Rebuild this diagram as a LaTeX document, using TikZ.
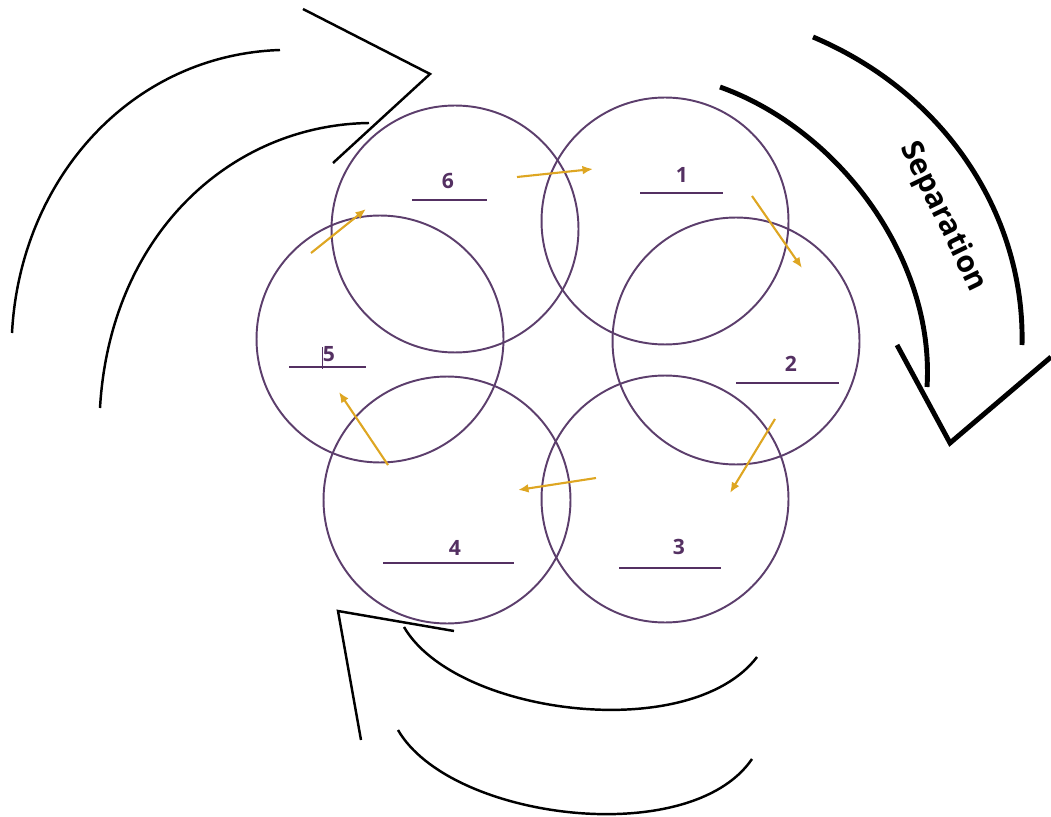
\documentclass[tikz,border=0pt]{standalone}
\usepackage{fontspec}
\setmainfont{Open Sans}
\usetikzlibrary{arrows.meta}

\definecolor{ringpurple}{RGB}{92,62,108}
\definecolor{numpurple}{RGB}{84,48,98}
\definecolor{flowgold}{RGB}{222,166,34}

\begin{document}
\begin{tikzpicture}
[
	x=0.02cm, y=-0.02cm,
	ring/.style={circle,draw=ringpurple,line width=1.1pt,minimum size=4.94cm,inner sep=0pt},
	num/.style={text=numpurple,font=\bfseries\fontsize{12}{14}\selectfont},
	uline/.style={draw=numpurple,line width=0.9pt},
	flow/.style={draw=flowgold,line width=1.2pt,-{Latex[length=6pt,width=5pt]}},
	sweep/.style={draw=black,line width=1.4pt},
	bigsweep/.style={draw=black,line width=2.8pt,line join=miter}
]
	\useasboundingbox (0,0) rectangle (1051,817);

	% circles
	\node[ring] (c6) at (455,229) {};
	\node[ring] (c1) at (665,221) {};
	\node[ring] (c2) at (736,341) {};
	\node[ring] (c3) at (665,499) {};
	\node[ring] (c4) at (447,500) {};
	\node[ring] (c5) at (380,339) {};

	% numbers and blank lines
	\foreach \n/\x/\y/\a/\b/\u in {6/448/181/412/487/200, 1/682/175/640/723/193,
		2/791/364/736/839/383, 3/679/547/619/721/568,
		4/455/548/383/514/563, 5/329/354/289/366/367} {
		\node[num] (n\n) at (\x,\y) {\n};
		\coordinate (l\n a) at (\a,\u);
		\coordinate (l\n b) at (\b,\u);
		\draw[uline] (l\n a) -- (l\n b);
	}
	\coordinate (cura) at (322,347);
	\coordinate (curb) at (322,369);
	\draw[numpurple,line width=0.5pt] (cura) -- (curb);

	% flow between circles
	\coordinate (f61a) at (517,177); \coordinate (f61b) at (593,169);
	\coordinate (f12a) at (752,196); \coordinate (f12b) at (802,268);
	\coordinate (f23a) at (775,419); \coordinate (f23b) at (730,493);
	\coordinate (f34a) at (596,478); \coordinate (f34b) at (518,490);
	\coordinate (f45a) at (388,465); \coordinate (f45b) at (339,392);
	\coordinate (f56a) at (311,253); \coordinate (f56b) at (366,209);
	\foreach \p in {61,12,23,34,45,56} {
		\draw[flow] (f\p a) -- (f\p b);
	}

	% top left sweep
	\coordinate (tlo1) at (12,333);   \coordinate (tlo2) at (280,50);
	\coordinate (tli1) at (100,408);  \coordinate (tli2) at (369,123);
	\coordinate (tlh1) at (303,9);    \coordinate (tlh2) at (430,74);
	\coordinate (tlh3) at (333,163);
	\draw[sweep] (tlo1) .. controls (20,180) and (130,55) .. (tlo2);
	\draw[sweep] (tli1) .. controls (110,235) and (230,125) .. (tli2);
	\draw[sweep] (tlh1) -- (tlh2) -- (tlh3);

	% separation sweep
	\coordinate (spo1) at (813,37);   \coordinate (spo2) at (1022,345);
	\coordinate (spi1) at (720,87);   \coordinate (spi2) at (927,387);
	\coordinate (sph1) at (897,345);  \coordinate (sph2) at (950,443);
	\coordinate (sph3) at (1051,357);
	\draw[bigsweep] (spo1) .. controls (950,95) and (1025,220) .. (spo2);
	\draw[bigsweep] (spi1) .. controls (840,130) and (935,260) .. (spi2);
	\draw[bigsweep] (sph1) -- (sph2) -- (sph3);
	\node[rotate=-64,font=\bfseries\fontsize{17}{20}\selectfont] (sep) at (943,217) {Separation};

	% bottom sweep
	\coordinate (bti1) at (404,627);  \coordinate (bti2) at (757,657);
	\coordinate (bto1) at (398,730);  \coordinate (bto2) at (752,759);
	\coordinate (bth1) at (361,740);  \coordinate (bth2) at (338,611);
	\coordinate (bth3) at (454,631);
	\draw[sweep] (bti1) .. controls (455,715) and (690,745) .. (bti2);
	\draw[sweep] (bto1) .. controls (450,820) and (690,850) .. (bto2);
	\draw[sweep] (bth1) -- (bth2) -- (bth3);

\end{tikzpicture}
\end{document}
